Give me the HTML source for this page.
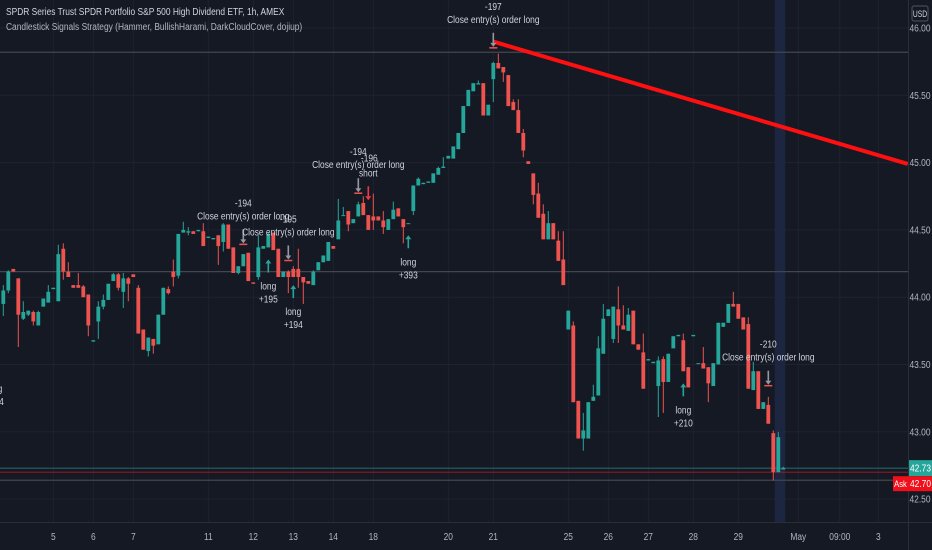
<!DOCTYPE html>
<html><head><meta charset="utf-8">
<style>
html,body{margin:0;padding:0;background:#151924;}
svg{display:block;}
text{font-family:"Liberation Sans Narrow","Liberation Sans",sans-serif;}
</style></head>
<body>
<svg id="chart" width="932" height="550" viewBox="0 0 932 550" xmlns="http://www.w3.org/2000/svg">
<rect x="0" y="0" width="932" height="550" fill="#151924"/>
<g id="grid"></g>
<rect id="hl" fill="#1d2640"/>
<g id="hlines"></g>
<g id="candles"></g>
<g id="trend"></g>
<g id="signals"></g>
<g id="yaxis"></g>
<g id="xaxis"></g>
<text transform="translate(6,15) scale(0.8,1)" font-size="10.5" fill="#d1d4dc">SPDR Series Trust SPDR Portfolio S&amp;P 500 High Dividend ETF, 1h, AMEX</text>
<text transform="translate(6,30) scale(0.8,1)" font-size="10.5" fill="#b2b5be">Candlestick Signals Strategy (Hammer, BullishHarami, DarkCloudCover, dojiup)</text>
<rect x="912" y="6" width="16" height="15" rx="2" fill="none" stroke="#50535e"/>
<text transform="translate(920,17) scale(0.75,1)" font-size="9" fill="#d1d4dc" text-anchor="middle">USD</text>
</svg>
<script>
const opens=[43.95,44.05,44.21,44.14,43.84,43.87,43.89,43.79,43.93,43.96,
44.06,43.97,44.36,44.19,44.09,44.09,44.08,44.02,43.67,43.82,
43.93,43.98,44.12,44.17,44.04,44.14,44.17,44.07,43.76,43.60,
43.69,43.65,43.87,44.06,44.19,44.16,44.48,44.48,44.49,44.49,
44.49,44.44,44.43,44.46,44.41,44.54,44.37,44.18,44.23,44.33,
44.11,44.15,44.36,44.37,44.48,44.36,44.15,44.19,44.21,44.21,
44.15,44.12,44.09,44.20,44.26,44.27,44.38,44.43,44.61,44.64,
44.55,44.60,44.70,44.61,44.60,44.60,44.57,44.50,44.58,44.66,
44.58,44.55,44.64,44.83,44.84,44.85,44.85,44.91,44.96,45.03,
45.03,45.10,45.22,45.42,45.53,45.58,45.59,45.35,45.62,45.74,
45.71,45.65,45.45,45.39,45.22,45.01,44.92,44.77,44.62,44.43,
44.55,44.42,44.28,43.76,43.79,43.23,42.95,42.95,43.23,43.27,
43.58,43.86,43.69,43.91,43.79,43.75,43.90,43.65,43.59,43.53,
43.51,43.34,43.54,43.37,43.62,43.71,43.68,43.48,43.71,43.51,
43.51,43.48,43.34,43.50,43.78,43.81,43.95,43.95,43.85,43.80,
43.31,43.45,43.17,43.20,42.99,42.70,42.72];
const highs=[44.09,44.20,44.21,44.14,43.97,43.90,43.90,43.90,43.99,44.09,
44.07,44.39,44.40,44.26,44.09,44.18,44.09,44.02,43.68,43.97,
44.02,44.10,44.18,44.18,44.18,44.15,44.17,44.09,43.76,43.70,
43.69,43.87,44.07,44.08,44.28,44.47,44.56,44.52,44.49,44.50,
44.55,44.45,44.44,44.46,44.55,44.54,44.37,44.23,44.32,44.33,
44.11,44.46,44.38,44.48,44.48,44.36,44.19,44.20,44.23,44.36,
44.15,44.12,44.20,44.26,44.31,44.41,44.38,44.73,44.67,44.64,
44.58,44.71,44.75,44.61,44.77,44.60,44.64,44.58,44.71,44.66,
44.58,44.55,44.83,44.89,44.85,44.86,44.92,44.97,45.04,45.05,
45.12,45.22,45.42,45.54,45.59,45.61,45.59,45.43,45.75,45.81,
45.71,45.65,45.47,45.47,45.25,45.01,44.92,44.85,44.69,44.64,
44.55,44.49,44.49,43.90,43.82,43.23,43.14,43.22,43.35,43.71,
43.95,43.91,43.93,44.08,43.94,43.92,43.90,43.65,43.73,43.54,
43.52,43.56,43.56,43.58,43.71,43.72,43.73,43.48,43.72,43.51,
43.63,43.48,43.51,43.81,43.81,43.95,44.04,43.95,43.85,43.85,
43.52,43.45,43.22,43.26,43.01,43.00,42.74];
const lows=[43.86,44.03,44.19,43.63,43.83,43.86,43.79,43.79,43.93,43.96,
44.06,43.97,44.13,44.15,44.07,44.07,44.00,43.71,43.67,43.69,
43.91,43.98,44.12,44.05,43.92,43.97,44.15,43.73,43.61,43.56,
43.58,43.65,43.87,44.02,44.08,44.14,44.48,44.46,44.47,44.49,
44.38,44.44,44.43,44.24,44.34,44.36,44.18,44.17,44.23,44.12,
44.10,44.13,44.36,44.37,44.35,44.15,44.15,44.03,44.15,44.07,
43.95,44.10,44.09,44.20,44.26,44.27,44.36,44.43,44.61,44.49,
44.55,44.60,44.61,44.50,44.50,44.57,44.47,44.50,44.58,44.60,
44.40,44.55,44.61,44.83,44.84,44.85,44.85,44.91,44.96,45.03,
45.03,45.10,45.22,45.42,45.53,45.58,45.35,45.35,45.45,45.70,
45.60,45.42,45.39,45.22,45.04,44.99,44.69,44.59,44.43,44.43,
44.43,44.27,44.09,43.76,43.22,42.95,42.86,42.95,43.23,43.27,
43.58,43.86,43.66,43.66,43.76,43.75,43.65,43.61,43.32,43.53,
43.51,43.11,43.14,43.37,43.62,43.71,43.45,43.33,43.71,43.51,
43.47,43.22,43.34,43.50,43.78,43.81,43.93,43.84,43.76,43.32,
43.31,43.17,43.17,43.06,42.64,42.70,42.72];
const closes=[44.05,44.19,44.19,43.87,43.89,43.90,43.82,43.89,43.99,44.04,
44.07,44.32,44.19,44.15,44.07,44.07,44.00,43.79,43.68,43.93,
43.98,44.10,44.17,44.07,44.14,44.10,44.15,43.73,43.61,43.70,
43.64,43.87,44.07,44.03,44.15,44.47,44.50,44.49,44.47,44.50,
44.38,44.45,44.44,44.38,44.54,44.36,44.18,44.23,44.32,44.12,
44.10,44.37,44.38,44.47,44.35,44.15,44.19,44.15,44.15,44.15,
44.11,44.10,44.19,44.26,44.31,44.41,44.36,44.57,44.61,44.54,
44.58,44.69,44.61,44.50,44.57,44.57,44.52,44.58,44.65,44.60,
44.52,44.55,44.83,44.88,44.85,44.86,44.92,44.96,44.97,45.05,
45.12,45.22,45.42,45.54,45.59,45.59,45.35,45.43,45.74,45.70,
45.67,45.42,45.39,45.22,45.09,44.99,44.76,44.59,44.43,44.55,
44.43,44.27,44.09,43.90,43.22,42.95,43.01,43.22,43.26,43.62,
43.84,43.91,43.93,43.79,43.76,43.87,43.65,43.61,43.32,43.54,
43.52,43.53,43.37,43.58,43.71,43.72,43.45,43.33,43.72,43.51,
43.47,43.36,43.51,43.81,43.81,43.95,43.93,43.84,43.76,43.32,
43.45,43.17,43.22,43.06,42.70,42.96,42.73];
const priceTicks=[46.00,45.50,45.00,44.50,44.00,43.50,43.00,42.50];
const dateLabels=["5","6","7","11","12","13","14","18","20","21","25","26","27","28","29","May","09:00","3"];
const dateIdx=[10,18,26,41,50,58,66,74,89,98,113,121,129,138,147,159,167.3,175];
const trendIdx=[97.9,180.9];
const trendPrice=[45.90,44.99];
const refLines=[45.82,44.19,42.64];
const lastPrice=42.73, askPrice=42.70;
const highlightIdx=[154.5,156.4];
const sigIdx=[98,48,57,71,73,53,58,81,136,153,-1.8];
const sigKind=["close","close","close","close","short","long","long","long","long","close","long"];
const sigPrice=[45.86,44.40,44.28,44.78,44.72,44.28,44.09,44.46,43.36,43.35,43.52];
const sigQty=["-197","-194","-195","-194","-196","+195","+194","+393","+210","-210","+194"];
const sigText=["Close entry(s) order long","Close entry(s) order long","Close entry(s) order long","Close entry(s) order long","short","long","long","long","long","Close entry(s) order long","long"];

const NS="http://www.w3.org/2000/svg";
const plotR=908, plotB=522;
const xAt=i=>3.3+5*i;
const yAt=p=>28+(46-p)*134.6;
function mk(tag,attrs,parent){const e=document.createElementNS(NS,tag);for(const k in attrs)e.setAttribute(k,attrs[k]);parent.appendChild(e);return e;}
function ntext(x,y,s,size,fill,anchor,parent){const t=mk('text',{transform:`translate(${x},${y}) scale(0.8,1)`,'font-size':size,fill:fill,'text-anchor':anchor},parent);t.textContent=s;return t;}

const grid=document.getElementById('grid');
priceTicks.forEach(p=>{const l=mk('line',{x1:0,x2:plotR,y1:yAt(p),y2:yAt(p),stroke:'#1f2330','stroke-width':1},grid);

});
dateIdx.forEach(i=>{const l=mk('line',{x1:xAt(i),x2:xAt(i),y1:0,y2:plotB,stroke:'#1f2330','stroke-width':1},grid);

});

const hl=document.getElementById('hl');
hl.setAttribute('x',xAt(highlightIdx[0])-1);hl.setAttribute('y',0);
hl.setAttribute('width',xAt(highlightIdx[1])-xAt(highlightIdx[0])+1);hl.setAttribute('height',plotB);

const hlines=document.getElementById('hlines');
refLines.forEach(p=>{const l=mk('line',{x1:0,x2:plotR,y1:yAt(p),y2:yAt(p),stroke:'#434651','stroke-width':1.2},hlines);

});
let l1=mk('line',{x1:0,x2:plotR,y1:yAt(lastPrice),y2:yAt(lastPrice),stroke:'#26a69a','stroke-width':0.8,'stroke-opacity':0.8},hlines);


let l2=mk('line',{x1:0,x2:plotR,y1:yAt(askPrice),y2:yAt(askPrice),stroke:'#b2161d','stroke-width':0.8},hlines);



const cg=document.getElementById('candles');
for(let i=0;i<opens.length;i++){
  const up=closes[i]>=opens[i];const col=up?'#26a69a':'#ef5350';
  const g=mk('g',{},cg);
  
  
  const x=xAt(i);
  mk('line',{x1:x,x2:x,y1:yAt(highs[i]),y2:yAt(lows[i]),stroke:col,'stroke-width':1},g);
  const t=yAt(Math.max(opens[i],closes[i])),b=yAt(Math.min(opens[i],closes[i]));
  mk('rect',{x:x-1.9,y:t,width:3.8,height:Math.max(1,b-t),fill:col},g);
}

const tg=document.getElementById('trend');
const tl=mk('line',{x1:xAt(trendIdx[0]),y1:yAt(trendPrice[0]),x2:xAt(trendIdx[1]),y2:yAt(trendPrice[1]),stroke:'#ff1010','stroke-width':4,'stroke-linecap':'butt'},tg);



const sg=document.getElementById('signals');
function txt(x,y,s,parent,name){const t=ntext(x,y,s,10.5,'#d1d4dc','middle',parent);

return t;}
for(let k=0;k<sigIdx.length;k++){
  const g=mk('g',{},sg);
  
  
  const x=xAt(sigIdx[k]),y=yAt(sigPrice[k]);
  if(sigKind[k]==='long'){
    mk('line',{x1:x,x2:x,y1:y+2,y2:y+13,stroke:'#26a69a','stroke-width':1.6},g);
    mk('path',{d:`M${x-3},${y+4} L${x},${y} L${x+3},${y+4} Z`,fill:'#26a69a'},g);
    txt(x,y+30,sigText[k],g,'signal-label');
    txt(x,y+43,sigQty[k],g,'signal-qty');
  } else {
    const c=sigKind[k]==='short'?'#f23645':'#9598a1';
    mk('line',{x1:x,x2:x,y1:y-14,y2:y-2,stroke:c,'stroke-width':1.6},g);
    mk('path',{d:`M${x-3},${y-4} L${x},${y} L${x+3},${y-4} Z`,fill:c},g);
    if(sigKind[k]==='close') mk('line',{x1:x-4,x2:x+4,y1:y+1,y2:y+1,stroke:'#ef5350','stroke-width':1.5},g);
    if(sigKind[k]==='short'){txt(x+1,y-39,sigQty[k],g,'signal-qty');txt(x,y-24,sigText[k],g,'signal-label');}
    else {txt(x,y-24,sigText[k],g,'signal-label');txt(x,y-37,sigQty[k],g,'signal-qty');}
  }
}

const ya=document.getElementById('yaxis');
let bd=mk('line',{x1:plotR+0.5,x2:plotR+0.5,y1:0,y2:550,stroke:'#2a2e39'},ya);


priceTicks.forEach(p=>{const t=ntext(920,yAt(p)+3.5,p.toFixed(2),10.5,'#b2b5be','middle',ya);

});
let lp=mk('rect',{x:909,y:yAt(lastPrice)-8,width:23,height:16,fill:'#26a69a'},ya);


let lpt=ntext(920.5,yAt(lastPrice)+3.5,lastPrice.toFixed(2),10.5,'#fff','middle',ya);


let ap=mk('rect',{x:893,y:yAt(askPrice)+4,width:39,height:15,fill:'#f00f1a'},ya);


let apl=ntext(900.5,yAt(askPrice)+15,'Ask',9.5,'#fff','middle',ya);


let apt=ntext(920.5,yAt(askPrice)+15,askPrice.toFixed(2),10.5,'#fff','middle',ya);



const xa=document.getElementById('xaxis');
let xb=mk('line',{x1:0,x2:932,y1:plotB+0.5,y2:plotB+0.5,stroke:'#2a2e39'},xa);


dateLabels.forEach((s,k)=>{const t=ntext(xAt(dateIdx[k]),540,s,10.5,'#b2b5be','middle',xa);

});
</script>
</body></html>
